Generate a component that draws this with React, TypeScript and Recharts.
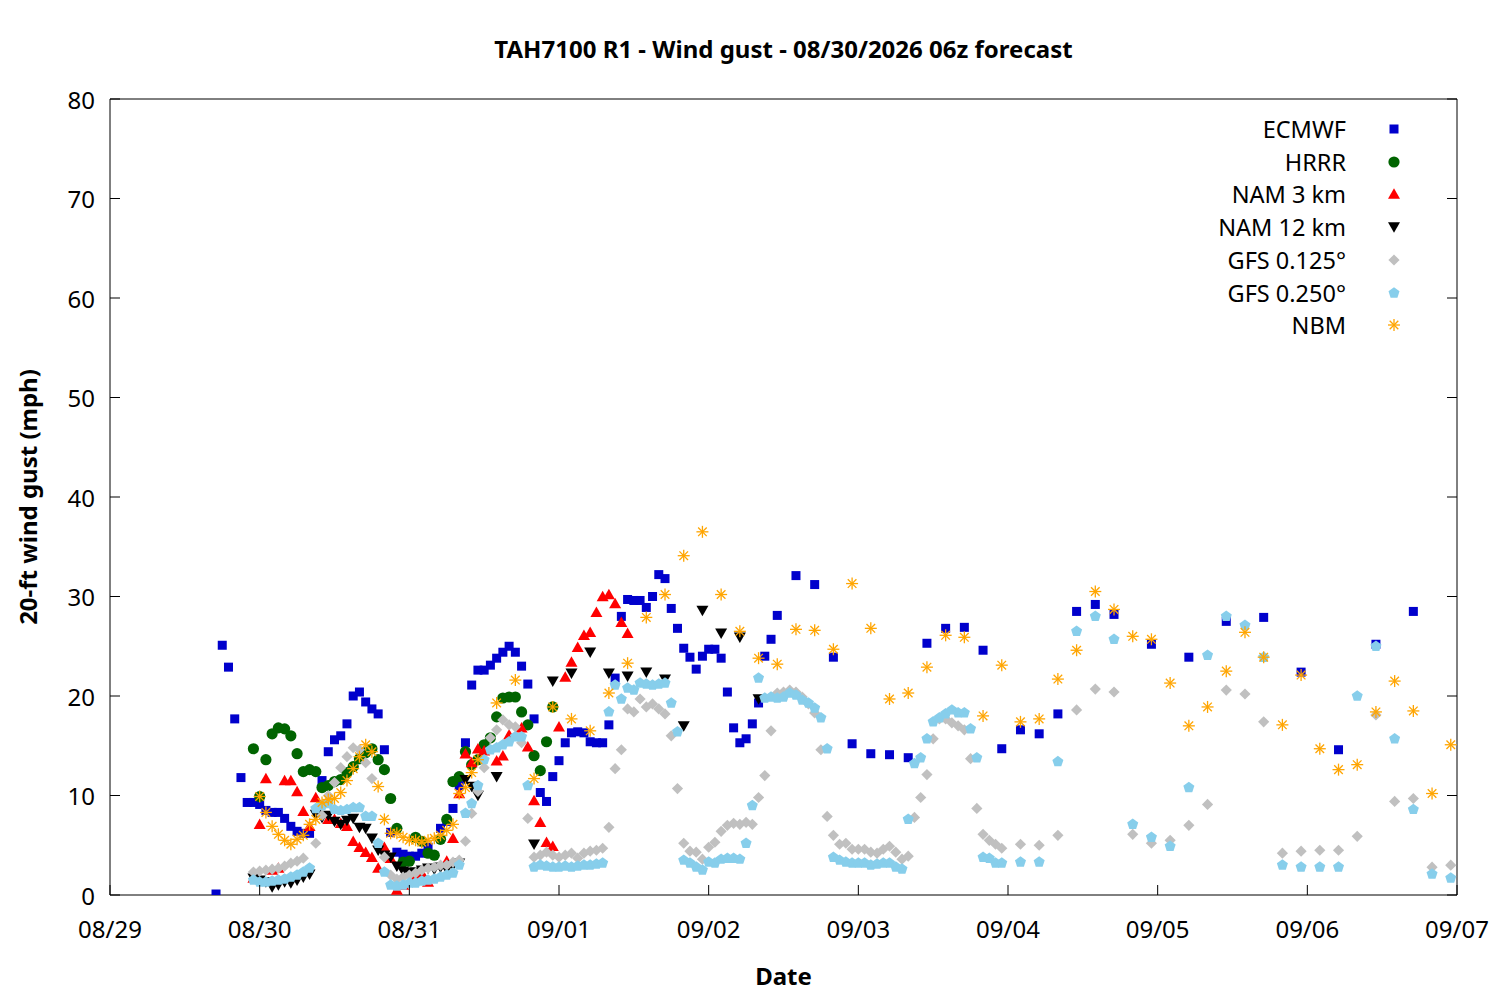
import React from 'react';
import { ScatterChart, Scatter, XAxis, YAxis } from 'recharts';

// hours since 08/30 00:00, wind gust (mph)
type Pt = [number, number];

const dateTicks = [-24, 0, 24, 48, 72, 96, 120, 144, 168, 192];
const dateLabels = ['08/29', '08/30', '08/31', '09/01', '09/02', '09/03', '09/04', '09/05', '09/06', '09/07'];
const gustTicks = [0, 10, 20, 30, 40, 50, 60, 70, 80];

const ecmwf: Pt[] = [
  [-7, 0.1], [-6, 25.1], [-5, 22.9], [-4, 17.7], [-3, 11.8], [-2, 9.3], [-1, 9.3], [0, 9.1], [1, 8.5], [2, 8.3],
  [3, 8.3], [4, 7.7], [5, 6.9], [6, 6.4], [7, 6.2], [8, 6.2], [10, 11.5], [11, 14.4], [12, 15.6], [13, 16.0],
  [14, 17.2], [15, 20.0], [16, 20.4], [17, 19.4], [18, 18.7], [19, 18.2], [20, 14.6], [21, 6.3], [22, 4.3], [23, 4.1],
  [24, 3.9], [25, 3.9], [26, 4.2], [27, 4.8], [29, 6.7], [30, 7.4], [31, 8.7], [32, 11.0], [33, 15.3], [34, 21.1],
  [35, 22.6], [36, 22.6], [37, 23.1], [38, 23.8], [39, 24.4], [40, 25.0], [41, 24.4], [42, 23.0], [43, 21.2], [44, 17.7],
  [45, 10.3], [46, 9.4], [47, 11.9], [48, 13.5], [49, 15.3], [50, 16.3], [51, 16.4], [52, 16.3], [53, 15.4], [54, 15.3],
  [55, 15.3], [56, 17.1], [57, 21.8], [58, 28.0], [59, 29.7], [60, 29.6], [61, 29.6], [62, 28.9], [63, 30.0], [64, 32.2],
  [65, 31.8], [66, 28.8], [67, 26.8], [68, 24.8], [69, 23.9], [70, 22.7], [71, 24.0], [72, 24.7], [73, 24.7], [74, 23.8],
  [75, 20.4], [76, 16.8], [77, 15.3], [78, 15.7], [79, 17.2], [80, 19.3], [81, 24.0], [82, 25.7], [83, 28.1], [86, 32.1],
  [89, 31.2], [92, 23.9], [95, 15.2], [98, 14.2], [101, 14.1], [104, 13.8], [107, 25.3], [110, 26.8], [113, 26.9], [116, 24.6],
  [119, 14.7], [122, 16.6], [125, 16.2], [128, 18.2], [131, 28.5], [134, 29.2], [137, 28.2], [143, 25.2], [149, 23.9], [155, 27.5],
  [161, 27.9], [167, 22.4], [173, 14.6], [179, 25.2], [185, 28.5],
];

const hrrr: Pt[] = [
  [-1, 14.7], [0, 9.9], [1, 13.6], [2, 16.2], [3, 16.8], [4, 16.7], [5, 16.0], [6, 14.2], [7, 12.4], [8, 12.6],
  [9, 12.4], [10, 10.8], [11, 11.0], [12, 11.4], [13, 11.6], [14, 12.3], [15, 12.9], [16, 13.7], [17, 14.3], [18, 14.7],
  [19, 13.6], [20, 12.6], [21, 9.7], [22, 6.7], [23, 3.3], [24, 3.4], [25, 5.8], [26, 5.4], [27, 4.2], [28, 4.0],
  [29, 5.6], [30, 7.6], [31, 11.4], [32, 11.9], [33, 14.4], [34, 13.1], [35, 13.6], [36, 15.1], [37, 15.8], [38, 17.9],
  [39, 19.8], [40, 19.9], [41, 19.9], [42, 18.4], [43, 17.1], [44, 14.0], [45, 12.5], [46, 15.4], [47, 18.9],
];

const nam3: Pt[] = [
  [-1, 1.7], [0, 7.1], [1, 11.7], [2, 2.5], [3, 2.7], [4, 11.5], [5, 11.5], [6, 10.4], [7, 8.4], [8, 6.9],
  [9, 9.8], [11, 7.6], [12, 7.6], [13, 7.2], [14, 6.9], [15, 5.4], [16, 4.8], [17, 4.3], [18, 3.8], [19, 2.7],
  [20, 4.8], [21, 3.7], [22, 0.5], [23, 1.0], [24, 1.3], [25, 1.8], [26, 2.2], [27, 1.3], [30, 3.4], [31, 5.7],
  [32, 10.2], [33, 14.2], [34, 13.3], [35, 14.7], [36, 14.5], [38, 13.5], [39, 14.0], [40, 16.1], [42, 16.8], [43, 14.9],
  [44, 9.5], [45, 7.3], [46, 5.3], [47, 4.9], [48, 16.9], [49, 21.9], [50, 23.4], [51, 24.9], [52, 26.1], [53, 26.4],
  [54, 28.4], [55, 30.0], [56, 30.2], [57, 29.3], [58, 27.4], [59, 26.3],
];

const nam12: Pt[] = [
  [-1, 1.7], [0, 1.5], [1, 1.3], [2, 0.8], [3, 1.0], [4, 1.3], [5, 1.2], [6, 1.5], [7, 1.8], [8, 2.1],
  [9, 8.1], [10, 7.8], [11, 8.0], [12, 7.4], [13, 7.1], [14, 7.5], [15, 7.7], [16, 6.8], [17, 6.7], [18, 5.7],
  [19, 4.5], [20, 4.0], [21, 3.8], [22, 2.9], [23, 2.4], [24, 2.3], [25, 2.3], [26, 2.5], [27, 2.7], [28, 2.6],
  [29, 2.8], [30, 2.6], [31, 3.0], [32, 3.2], [33, 11.6], [34, 10.9], [35, 10.0], [38, 11.9], [44, 5.1], [47, 21.5],
  [50, 22.3], [53, 24.4], [56, 22.3], [59, 22.0], [62, 22.4], [65, 21.7], [68, 17.0], [71, 28.6], [74, 26.3], [77, 25.9],
  [80, 19.7],
];

const gfs0125: Pt[] = [
  [-1, 2.3], [0, 2.4], [1, 2.5], [2, 2.6], [3, 2.7], [4, 2.9], [5, 3.2], [6, 3.4], [7, 3.7], [9, 5.2],
  [10, 8.0], [11, 10.0], [12, 11.3], [13, 12.8], [14, 13.9], [15, 14.8], [16, 14.6], [17, 13.3], [18, 11.7], [20, 3.8],
  [21, 2.0], [22, 1.6], [23, 1.8], [24, 2.0], [25, 2.2], [26, 2.5], [27, 2.7], [28, 2.8], [29, 3.0], [30, 3.0],
  [31, 3.3], [32, 3.5], [33, 5.4], [34, 8.2], [35, 10.4], [36, 12.8], [37, 15.8], [38, 16.6], [39, 17.6], [40, 17.1],
  [41, 16.9], [42, 15.3], [43, 7.7], [44, 3.8], [45, 4.0], [46, 4.3], [47, 4.0], [48, 3.8], [49, 4.0], [50, 4.2],
  [51, 3.7], [52, 4.2], [53, 4.4], [54, 4.5], [55, 4.7], [56, 6.8], [57, 12.7], [58, 14.6], [59, 18.7], [60, 18.4],
  [61, 19.7], [62, 18.9], [63, 19.2], [64, 18.7], [65, 18.2], [66, 16.0], [67, 10.7], [68, 5.2], [69, 4.4], [70, 4.3],
  [71, 3.6], [72, 4.8], [73, 5.3], [74, 6.4], [75, 7.0], [76, 7.2], [77, 7.1], [78, 7.3], [79, 7.1], [80, 9.8],
  [81, 12.0], [82, 16.5], [83, 20.3], [84, 20.4], [85, 20.6], [86, 20.4], [87, 19.9], [88, 19.2], [89, 18.3], [90, 14.6],
  [91, 7.9], [92, 6.0], [93, 5.1], [94, 5.2], [95, 4.6], [96, 4.6], [97, 4.6], [98, 4.3], [99, 4.2], [100, 4.6],
  [101, 4.9], [102, 4.3], [103, 3.6], [104, 3.9], [105, 7.8], [106, 9.8], [107, 12.1], [108, 15.7], [109, 17.7], [110, 17.7],
  [111, 17.3], [112, 17.0], [113, 16.6], [114, 13.7], [115, 8.7], [116, 6.1], [117, 5.5], [118, 5.1], [119, 4.7], [122, 5.1],
  [125, 5.0], [128, 6.0], [131, 18.6], [134, 20.7], [137, 20.4], [140, 6.1], [143, 5.2], [146, 5.5], [149, 7.0], [152, 9.1],
  [155, 20.6], [158, 20.2], [161, 17.4], [164, 4.2], [167, 4.4], [170, 4.5], [173, 4.5], [176, 5.9], [179, 18.1], [182, 9.4],
  [185, 9.7], [188, 2.8], [191, 3.0],
];

const gfs0250: Pt[] = [
  [-1, 1.5], [0, 1.3], [1, 1.3], [2, 1.4], [3, 1.5], [4, 1.6], [5, 1.8], [6, 2.0], [7, 2.3], [8, 2.7],
  [9, 8.7], [10, 9.0], [11, 9.2], [12, 8.6], [13, 8.5], [14, 8.6], [15, 8.8], [16, 8.8], [17, 7.9], [18, 7.9],
  [19, 5.2], [20, 2.3], [21, 1.0], [22, 0.9], [23, 1.0], [24, 1.2], [25, 1.2], [26, 1.4], [27, 1.5], [28, 1.6],
  [29, 1.8], [30, 2.0], [31, 2.2], [32, 3.0], [33, 8.2], [34, 9.2], [35, 11.0], [36, 13.6], [37, 14.6], [38, 14.8],
  [39, 15.1], [40, 15.4], [41, 15.9], [42, 15.9], [43, 11.0], [44, 2.8], [45, 3.0], [46, 2.9], [47, 2.8], [48, 2.8],
  [49, 2.9], [50, 2.8], [51, 2.9], [52, 3.0], [53, 3.0], [54, 3.1], [55, 3.2], [56, 18.4], [57, 21.1], [58, 19.7],
  [59, 20.8], [60, 20.6], [61, 21.3], [62, 21.2], [63, 21.1], [64, 21.2], [65, 21.3], [66, 19.3], [67, 16.4], [68, 3.5],
  [69, 3.2], [70, 2.8], [71, 2.5], [72, 3.3], [73, 3.2], [74, 3.6], [75, 3.7], [76, 3.7], [77, 3.6], [78, 5.2],
  [79, 9.0], [80, 21.8], [81, 19.8], [82, 19.9], [83, 19.8], [84, 19.9], [85, 20.3], [86, 20.1], [87, 19.6], [88, 19.3],
  [89, 18.8], [90, 17.8], [91, 14.7], [92, 3.8], [93, 3.5], [94, 3.3], [95, 3.2], [96, 3.2], [97, 3.2], [98, 3.0],
  [99, 3.1], [100, 3.2], [101, 3.2], [102, 2.8], [103, 2.6], [104, 7.6], [105, 13.2], [106, 13.8], [107, 15.7], [108, 17.4],
  [109, 17.8], [110, 18.2], [111, 18.6], [112, 18.3], [113, 18.3], [114, 16.7], [115, 13.8], [116, 3.8], [117, 3.7], [118, 3.2],
  [119, 3.2], [122, 3.3], [125, 3.3], [128, 13.4], [131, 26.5], [134, 28.0], [137, 25.7], [140, 7.1], [143, 5.8], [146, 4.9],
  [149, 10.8], [152, 24.1], [155, 28.0], [158, 27.1], [161, 23.9], [164, 3.0], [167, 2.8], [170, 2.8], [173, 2.8], [176, 20.0],
  [179, 25.0], [182, 15.7], [185, 8.6], [188, 2.1], [191, 1.7],
];

const nbm: Pt[] = [
  [0, 9.9], [1, 8.3], [2, 6.9], [3, 6.1], [4, 5.5], [5, 5.1], [6, 5.6], [7, 6.0], [8, 7.1], [9, 7.6],
  [10, 9.3], [11, 9.6], [12, 9.7], [13, 10.3], [14, 11.5], [15, 12.7], [16, 13.9], [17, 15.1], [18, 14.4], [19, 10.9],
  [20, 7.6], [21, 6.2], [22, 6.2], [23, 5.8], [24, 5.5], [25, 5.5], [26, 5.3], [27, 5.5], [28, 5.7], [29, 6.0],
  [30, 6.5], [31, 7.1], [32, 10.2], [33, 10.8], [34, 12.3], [35, 13.6], [38, 19.3], [41, 21.6], [44, 11.7], [47, 18.9],
  [50, 17.7], [53, 16.5], [56, 20.3], [59, 23.3], [62, 27.9], [65, 30.2], [68, 34.1], [71, 36.5], [74, 30.2], [77, 26.5],
  [80, 23.8], [83, 23.2], [86, 26.7], [89, 26.6], [92, 24.7], [95, 31.3], [98, 26.8], [101, 19.7], [104, 20.3], [107, 22.9],
  [110, 26.1], [113, 25.9], [116, 18.0], [119, 23.1], [122, 17.4], [125, 17.7], [128, 21.7], [131, 24.6], [134, 30.5], [137, 28.7],
  [140, 26.0], [143, 25.7], [146, 21.3], [149, 17.0], [152, 18.9], [155, 22.5], [158, 26.4], [161, 23.9], [164, 17.1], [167, 22.1],
  [170, 14.7], [173, 12.6], [176, 13.1], [179, 18.4], [182, 21.5], [185, 18.5], [188, 10.2], [191, 15.1],
];

const drawMark = (kind: string, color: string, cx: number, cy: number) => {
  switch (kind) {
    case 'square':
      return <rect x={cx - 4.5} y={cy - 4.5} width={9} height={9} fill={color} />;
    case 'circle':
      return <circle cx={cx} cy={cy} r={5.6} fill={color} />;
    case 'up':
      return <polygon points={`${cx - 6},${cy + 4.7} ${cx + 6},${cy + 4.7} ${cx},${cy - 5.8}`} fill={color} />;
    case 'down':
      return <polygon points={`${cx - 6},${cy - 4.7} ${cx + 6},${cy - 4.7} ${cx},${cy + 5.8}`} fill={color} />;
    case 'diamond':
      return <polygon points={`${cx},${cy - 5.6} ${cx + 5.6},${cy} ${cx},${cy + 5.6} ${cx - 5.6},${cy}`} fill={color} />;
    case 'pentagon': {
      const pts = [0, 1, 2, 3, 4]
        .map(k => {
          const a = ((-90 + k * 72) * Math.PI) / 180;
          return `${cx + 5.8 * Math.cos(a)},${cy + 5.8 * Math.sin(a)}`;
        })
        .join(' ');
      return <polygon points={pts} fill={color} />;
    }
    default:
      return (
        <g stroke={color} strokeWidth={1.3}>
          <line x1={cx - 6} y1={cy} x2={cx + 6} y2={cy} />
          <line x1={cx} y1={cy - 6} x2={cx} y2={cy + 6} />
          <line x1={cx - 4.3} y1={cy - 4.3} x2={cx + 4.3} y2={cy + 4.3} />
          <line x1={cx - 4.3} y1={cy + 4.3} x2={cx + 4.3} y2={cy - 4.3} />
        </g>
      );
  }
};

const series = [
  { name: 'ECMWF', data: ecmwf, kind: 'square', color: '#0000cc' },
  { name: 'HRRR', data: hrrr, kind: 'circle', color: '#006400' },
  { name: 'NAM 3 km', data: nam3, kind: 'up', color: '#ff0000' },
  { name: 'NAM 12 km', data: nam12, kind: 'down', color: '#000000' },
  { name: 'GFS 0.125°', data: gfs0125, kind: 'diamond', color: '#c0c0c0' },
  { name: 'GFS 0.250°', data: gfs0250, kind: 'pentagon', color: '#87ceeb' },
  { name: 'NBM', data: nbm, kind: 'star', color: '#ffa500' },
];

const toPoints = (pts: Pt[]) => pts.map(([x, y]) => ({ x, y }));

const XTick = ({ x, y, payload }: any) => (
  <g>
    <line x1={x} y1={y} x2={x} y2={y - 10} stroke="#000" />
    <text x={x} y={y + 33} textAnchor="middle" dominantBaseline="central" fontSize={24} fill="#000">
      {dateLabels[dateTicks.indexOf(payload.value)]}
    </text>
  </g>
);

const XTopTick = ({ x, y }: any) => <line x1={x} y1={y} x2={x} y2={y + 10} stroke="#000" />;

const YTick = ({ x, y, payload }: any) => (
  <g>
    <line x1={x} y1={y} x2={x + 10} y2={y} stroke="#000" />
    <text x={x - 15} y={y} textAnchor="end" dominantBaseline="central" fontSize={24} fill="#000">
      {payload.value}
    </text>
  </g>
);

const YRightTick = ({ x, y }: any) => <line x1={x} y1={y} x2={x - 10} y2={y} stroke="#000" />;

const App = () => (
  <div style={{ position: 'relative', width: 1484, height: 984, fontFamily: '"Noto Sans", sans-serif', color: '#000' }}>
    <ScatterChart width={1484} height={984} margin={{ top: 90, right: 34, bottom: 37, left: 0 }}>
      <XAxis
        type="number"
        dataKey="x"
        domain={[-24, 192]}
        ticks={dateTicks}
        interval={0}
        allowDataOverflow
        height={60}
        tickSize={0}
        tickMargin={0}
        tickLine={false}
        tick={<XTick />}
        axisLine={{ stroke: '#000' }}
      />
      <XAxis
        xAxisId="top"
        orientation="top"
        type="number"
        domain={[-24, 192]}
        ticks={dateTicks}
        interval={0}
        allowDataOverflow
        height={1}
        tickSize={0}
        tickMargin={0}
        tickLine={false}
        tick={<XTopTick />}
        axisLine={{ stroke: '#000' }}
      />
      <YAxis
        type="number"
        dataKey="y"
        domain={[0, 80]}
        ticks={gustTicks}
        interval={0}
        allowDataOverflow
        width={102}
        tickSize={0}
        tickMargin={0}
        tickLine={false}
        tick={<YTick />}
        axisLine={{ stroke: '#000' }}
      />
      <YAxis
        yAxisId="right"
        orientation="right"
        type="number"
        domain={[0, 80]}
        ticks={gustTicks}
        interval={0}
        allowDataOverflow
        width={1}
        tickSize={0}
        tickMargin={0}
        tickLine={false}
        tick={<YRightTick />}
        axisLine={{ stroke: '#000' }}
      />
      {series.map(s => (
        <Scatter
          key={s.name}
          name={s.name}
          data={toPoints(s.data)}
          isAnimationActive={false}
          shape={(p: any) => drawMark(s.kind, s.color, p.cx, p.cy)}
        />
      ))}
    </ScatterChart>

    <div style={{ position: 'absolute', left: 102, width: 1347, top: 28, textAlign: 'center', fontSize: 24, fontWeight: 'bold', lineHeight: '26px' }}>
      TAH7100 R1 - Wind gust - 08/30/2026 06z forecast
    </div>
    <div style={{ position: 'absolute', left: 102, width: 1347, top: 955, textAlign: 'center', fontSize: 24, fontWeight: 'bold', lineHeight: '26px' }}>
      Date
    </div>
    <div
      style={{
        position: 'absolute',
        left: 20,
        top: 489,
        transform: 'translate(-50%, -50%) rotate(-90deg)',
        whiteSpace: 'nowrap',
        fontSize: 24,
        fontWeight: 'bold',
        lineHeight: '26px',
      }}
    >
      20-ft wind gust (mph)
    </div>

    {series.map((s, i) => (
      <div key={s.name}>
        <div
          style={{
            position: 'absolute',
            left: 1038,
            width: 300,
            top: 121 + i * 32.7 - 16,
            height: 32,
            lineHeight: '32px',
            textAlign: 'right',
            fontSize: 23.5,
          }}
        >
          {s.name}
        </div>
        <svg style={{ position: 'absolute', left: 1378, top: 121 + i * 32.7 - 8 }} width={16} height={16}>
          {drawMark(s.kind, s.color, 8, 8)}
        </svg>
      </div>
    ))}
  </div>
);

export default App;
